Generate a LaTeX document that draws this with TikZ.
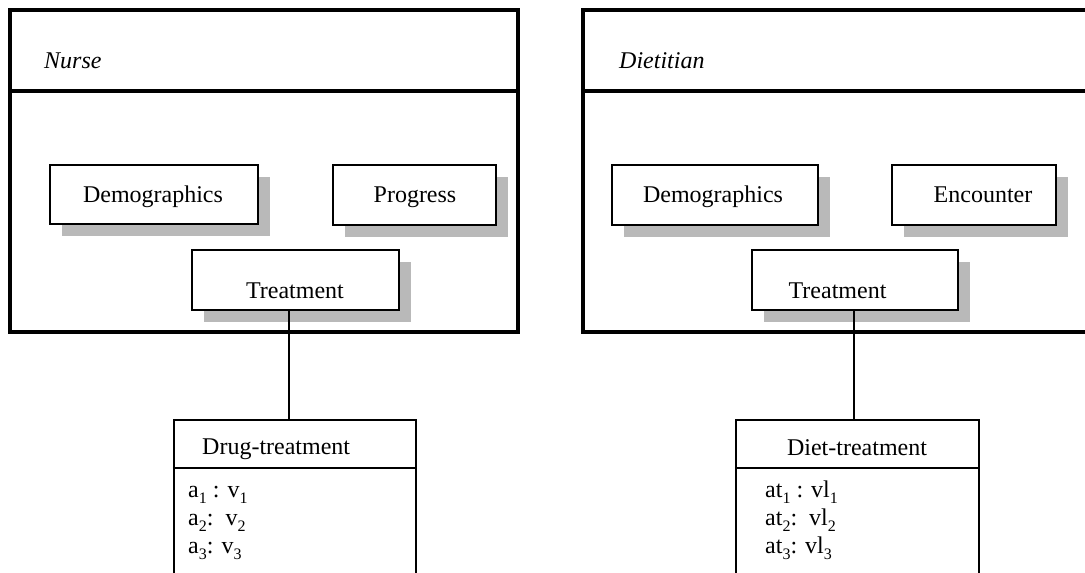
\documentclass[tikz,border=0pt]{standalone}
\usepackage{fontspec}
\setmainfont{Liberation Serif}
\usetikzlibrary{shadows}
% lowered index figure for attribute names
\newcommand{\idx}[1]{\raisebox{-0.28em}{\fontsize{16}{16}\selectfont #1}}
\begin{document}
\begin{tikzpicture}[x=1pt,y=-1pt,
  frame/.style={line width=3.3pt},
  rolebox/.style={draw, line width=2pt, fill=white, rectangle, inner sep=0pt,
    drop shadow={shadow xshift=12pt, shadow yshift=-12pt, fill=gray!55, opacity=1}},
  classbox/.style={draw, line width=2.2pt, rectangle, inner sep=0pt},
  link/.style={line width=1.3pt},
  lbl/.style={inner sep=0pt, font=\fontsize{24}{28}\selectfont},
  role/.style={lbl, font=\fontsize{24}{28}\selectfont\itshape, anchor=base west}]
\useasboundingbox (0,0) rectangle (1085,573);
\clip (0,0) rectangle (1085,573);

% ---- Nurse view ----
\draw[frame] (10,10) rectangle (518,332);
\draw[frame] (10,91) -- (518,91);
\node[role] (nurse) at (44,68) {Nurse};

\node[rolebox, minimum width=208pt, minimum height=59pt] (nDem) at (154,194.5) {};
\node[rolebox, minimum width=163pt, minimum height=60pt] (nProg) at (414.5,195) {};
\node[rolebox, minimum width=207pt, minimum height=60pt] (nTreat) at (295.5,280) {};
\node[lbl, anchor=base] at (153,202) {Demographics};
\node[lbl, anchor=base] at (415,202) {Progress};
\node[lbl, anchor=base] at (295,298) {Treatment};

% ---- Dietitian view ----
\draw[frame] (1100,10) -- (583,10) -- (583,332) -- (1100,332);
\draw[frame] (583,91) -- (1100,91);
\node[role] (dietitian) at (619,68) {Dietitian};

\node[rolebox, minimum width=206pt, minimum height=60pt] (dDem) at (715,195) {};
\node[rolebox, minimum width=164pt, minimum height=60pt] (dEnc) at (974,195) {};
\node[rolebox, minimum width=206pt, minimum height=60pt] (dTreat) at (855,280) {};
\node[lbl, anchor=base] at (713,202) {Demographics};
\node[lbl, anchor=base] at (983,202) {Encounter};
\node[lbl, anchor=base] at (837.5,298) {Treatment};

% ---- specialised classes ----
\node[classbox, minimum width=242pt, minimum height=180pt] (drug) at (295,510) {};
\draw[line width=2.2pt] (drug.west |- 0,468) -- (drug.east |- 0,468);
\node[lbl, anchor=base west] at (202,454) {Drug-treatment};
\node[lbl, anchor=base west] at (188,497) {a\idx{1} : v\idx{1}};
\node[lbl, anchor=base west] at (188,525) {a\idx{2}:\ \ v\idx{2}};
\node[lbl, anchor=base west] at (188,553) {a\idx{3}: v\idx{3}};

\node[classbox, minimum width=243pt, minimum height=180pt] (diet) at (857.5,510) {};
\draw[line width=2.2pt] (diet.west |- 0,468) -- (diet.east |- 0,468);
\node[lbl, anchor=base] at (857,455) {Diet-treatment};
\node[lbl, anchor=base west] at (765,497) {at\idx{1} : vl\idx{1}};
\node[lbl, anchor=base west] at (765,525) {at\idx{2}:\ \ vl\idx{2}};
\node[lbl, anchor=base west] at (765,553) {at\idx{3}: vl\idx{3}};

% ---- connectors ----
\draw[link] ([xshift=-6.5pt]nTreat.south) -- ([xshift=-6pt]drug.north);
\draw[link] ([xshift=-1pt]dTreat.south) -- ([xshift=-3.5pt]diet.north);
\end{tikzpicture}
\end{document}
